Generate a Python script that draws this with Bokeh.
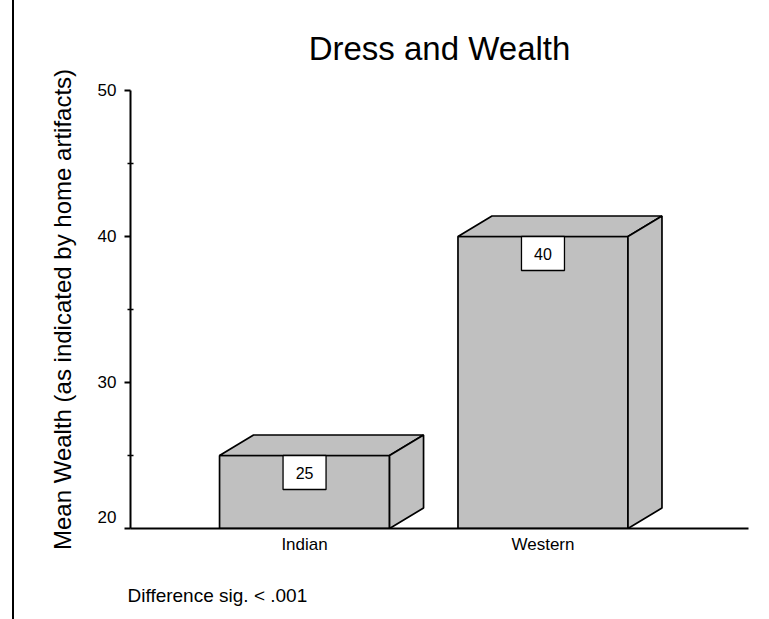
from bokeh.plotting import figure
from bokeh.models import Range1d, FixedTicker, Title, Div
from bokeh.layouts import row
from bokeh.embed import file_html
from bokeh.resources import INLINE
from bokeh.core.properties import value

# ---- data ----
categories = ["Indian", "Western"]
positions = [1, 2]
mean_wealth = [25, 40]
y_ticks = [20, 30, 40, 50]
y_minor_ticks = [25, 35, 45]
title_text = "Dress and Wealth"
y_label = "Mean Wealth (as indicated by home artifacts)"
note_text = "Difference sig. < .001"

# ---- layout ----
RULE_W = 14
W, H = 769 - RULE_W, 619
ML, MR, MT, MB = 130 - RULE_W, 21, 90, 91
FW = W - ML - MR
FH = H - MT - MB
X0, X1 = 0.27, 2.862
Y0, Y1 = y_ticks[0], y_ticks[-1]
px_x = (X1 - X0) / FW
px_y = (Y1 - Y0) / FH

BAR_W = 170 * px_x
DX = 34 * px_x
DY = 20.5 * px_y
BOX_W = 43 * px_x
BOX_H = 34 * px_y

FONT = "Liberation Sans"
GRAY = "#c0c0c0"

p = figure(width=W, height=H, x_range=Range1d(X0, X1), y_range=Range1d(Y0, Y1),
           output_backend="svg", toolbar_location=None, margin=0,
           min_border_left=ML, min_border_right=MR, min_border_top=MT, min_border_bottom=MB)
p.grid.visible = False
p.outline_line_color = None
p.background_fill_color = "white"
p.border_fill_color = "white"

# front faces
lefts = [x - BAR_W / 2 for x in positions]
rights = [x + BAR_W / 2 for x in positions]
p.quad(left=lefts, right=rights, bottom=[Y0] * len(positions), top=mean_wealth,
       fill_color=GRAY, line_color="black", line_width=1.7)

# top faces
top_xs = [[l, l + DX, r + DX, r] for l, r in zip(lefts, rights)]
top_ys = [[v, v + DY, v + DY, v] for v in mean_wealth]
p.patches(top_xs, top_ys, fill_color=GRAY, line_color="black", line_width=1.7)

# side faces
side_xs = [[r, r + DX, r + DX, r] for r in rights]
side_ys = [[v, v + DY, Y0 + DY, Y0] for v in mean_wealth]
p.patches(side_xs, side_ys, fill_color=GRAY, line_color="black", line_width=1.7)

# value boxes
box_y = [v - BOX_H / 2 for v in mean_wealth]
p.rect(x=positions, y=box_y, width=BOX_W, height=BOX_H,
       fill_color="white", line_color="black", line_width=1.3)
p.text(x=positions, y=box_y, text=[str(v) for v in mean_wealth],
       text_align="center", text_baseline="middle",
       text_font=value(FONT), text_font_size="16px", text_color="black")

# axes
xa = p.xaxis[0]
xa.ticker = FixedTicker(ticks=positions)
xa.major_label_overrides = {pos: c for pos, c in zip(positions, categories)}
xa.major_tick_line_color = None
xa.minor_tick_line_color = None
xa.axis_line_width = 2
xa.major_label_standoff = 0
xa.major_label_text_font = FONT
xa.major_label_text_font_size = "17px"
xa.major_label_text_color = "black"

ya = p.yaxis[0]
ya.ticker = FixedTicker(ticks=y_ticks, minor_ticks=y_minor_ticks)
# lowest label sits raised above the baseline axis
ya.major_label_overrides = {y_ticks[0]: str(y_ticks[0]) + "\n"}
ya.axis_line_width = 2
ya.major_tick_out = 6
ya.major_tick_in = 0
ya.major_tick_line_width = 2
ya.minor_tick_out = 3
ya.minor_tick_in = 3
ya.minor_tick_line_width = 1.5
ya.major_label_standoff = 8
ya.major_label_text_font = FONT
ya.major_label_text_font_size = "17px"
ya.major_label_text_color = "black"
ya.axis_label = y_label
ya.axis_label_text_font = FONT
ya.axis_label_text_font_size = "24px"
ya.axis_label_text_font_style = "normal"
ya.axis_label_text_color = "black"
ya.axis_label_standoff = 19

# title and footnote
p.title.text = title_text
p.title.align = "center"
p.title.text_font = FONT
p.title.text_font_size = "33px"
p.title.text_font_style = "normal"
p.title.text_color = "black"
p.title.standoff = 47

p.add_layout(Title(text="\n" + note_text, align="left", offset=-3, text_font=FONT,
                   text_font_size="19px", text_font_style="normal",
                   text_color="black", standoff=11), "below")

# left border rule
rule = Div(text="", width=RULE_W, height=H, margin=0,
           styles={"border-right": "2px solid black", "box-sizing": "border-box",
                   "background": "white"})

layout = row(rule, p, spacing=0, margin=0)
open("out.html", "w").write(file_html(layout, INLINE))
